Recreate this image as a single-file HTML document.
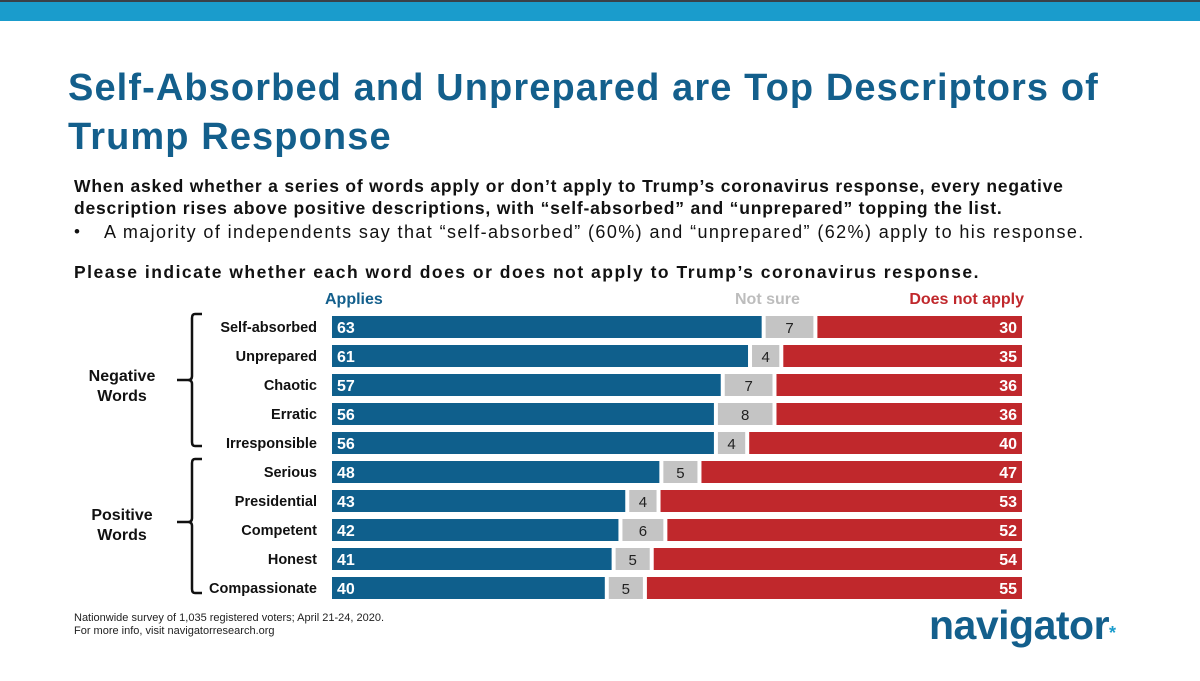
<!DOCTYPE html>
<html><head><meta charset="utf-8"><style>
body{margin:0;width:1200px;height:681px;background:#fff;position:relative;overflow:hidden;font-family:"Liberation Sans",sans-serif}
.a{position:absolute}
</style></head><body>
<div class="a" style="left:0;top:0;width:1200px;height:2px;background:#3a4048"></div>
<div class="a" style="left:0;top:2px;width:1200px;height:19px;background:#1a9ccc"></div>
<div class="a" style="left:68px;top:64px;width:1130px;font-size:38px;line-height:49px;font-weight:bold;color:#135f8c;letter-spacing:1.1px;white-space:nowrap">Self-Absorbed and Unprepared are Top Descriptors of<br>Trump Response</div>
<div class="a" style="left:74px;top:175px;width:1120px;font-size:17.5px;line-height:22px;font-weight:bold;color:#111;letter-spacing:0.8px;white-space:nowrap">When asked whether a series of words apply or don’t apply to Trump’s coronavirus response, every negative<br>description rises above positive descriptions, with “self-absorbed” and “unprepared” topping the list.</div>
<div class="a" style="left:74px;top:221px;width:1120px;font-size:17px;line-height:22px;color:#111;white-space:nowrap">•<span style="position:absolute;left:30px;font-size:18px;letter-spacing:1.4px">A majority of independents say that “self-absorbed” (60%) and “unprepared” (62%) apply to his response.</span></div>
<div class="a" style="left:74px;top:261px;width:1120px;font-size:17.5px;line-height:22px;font-weight:bold;color:#111;letter-spacing:1.5px;white-space:nowrap">Please indicate whether each word does or does not apply to Trump’s coronavirus response.</div>
<svg class="a" style="left:0;top:0" width="1200" height="681" id="chart">
<g font-family="Liberation Sans, sans-serif" font-weight="bold" font-size="16">
<text x="325" y="304" fill="#135f8c">Applies</text>
<text x="735" y="304" fill="#bdbdbd">Not sure</text>
<text x="1024" y="304" fill="#c0282c" text-anchor="end">Does not apply</text>
<text x="122" y="381" text-anchor="middle" fill="#111"><tspan x="122">Negative</tspan><tspan x="122" dy="20">Words</tspan></text>
<text x="122" y="520" text-anchor="middle" fill="#111"><tspan x="122">Positive</tspan><tspan x="122" dy="20">Words</tspan></text>
</g>
<path d="M202,314 H195 Q192,314 192,318 V376 Q192,380 188,380 H177 M188,380 Q192,380 192,384 V442 Q192,446 195,446 H202" fill="none" stroke="#111" stroke-width="2.5"/>
<path d="M202,459 H195 Q192,459 192,463 V518 Q192,522 188,522 H177 M188,522 Q192,522 192,526 V589 Q192,593 195,593 H202" fill="none" stroke="#111" stroke-width="2.5"/>
<g id="bars"></g>
</svg>
<div class="a" style="left:74px;top:612px;font-size:11px;line-height:13px;color:#222">Nationwide survey of 1,035 registered voters; April 21-24, 2020.<br>For more info, visit navigatorresearch.org</div>
<div class="a" style="left:929px;top:602px;font-size:41px;font-weight:bold;color:#135f8c;letter-spacing:-0.5px">navigator<span style="color:#1a9ccc;font-size:18px">*</span></div>
<script>
const words=["Self-absorbed","Unprepared","Chaotic","Erratic","Irresponsible","Serious","Presidential","Competent","Honest","Compassionate"];
const applies=[63,61,57,56,56,48,43,42,41,40];
const notSure=[7,4,7,8,4,5,4,6,5,5];
const notApply=[30,35,36,36,40,47,53,52,54,55];
const x0=332,unit=6.82,gap=4,rowY=i=>327+29*i,bh=22;
const xs=v=>v*unit;
const g=document.getElementById('bars');
const NS='http://www.w3.org/2000/svg';
function mk(t,attrs,txt){const e=document.createElementNS(NS,t);for(const k in attrs)e.setAttribute(k,attrs[k]);if(txt!==undefined)e.textContent=txt;g.appendChild(e);return e;}
words.forEach((w,i)=>{
  const cy=rowY(i),y=cy-bh/2;
  let l=mk('text',{x:317,y:cy+5,'text-anchor':'end','font-size':14.5,'font-weight':'bold',fill:'#111','font-family':'Liberation Sans, sans-serif'},w);
  
  
  const wa=xs(applies[i]);
  let r1=mk('rect',{x:x0,y:y,width:wa,height:bh,fill:'#0f5f8c'});
  
  
  let t1=mk('text',{x:x0+5,y:cy+6,'font-size':16,'font-weight':'bold',fill:'#fff','font-family':'Liberation Sans, sans-serif'},applies[i]);
  
  
  const x2=x0+wa+gap,wn=xs(notSure[i]);
  let r2=mk('rect',{x:x2,y:y,width:wn,height:bh,fill:'#c4c4c4'});
  
  
  let t2=mk('text',{x:x2+wn/2,y:cy+6,'text-anchor':'middle','font-size':15,fill:'#222','font-family':'Liberation Sans, sans-serif'},notSure[i]);
  
  
  const x3=x2+wn+gap,wr=xs(notApply[i]);
  let r3=mk('rect',{x:x3,y:y,width:wr,height:bh,fill:'#c0282c'});
  
  
  let t3=mk('text',{x:x3+wr-5,y:cy+6,'text-anchor':'end','font-size':16,'font-weight':'bold',fill:'#fff','font-family':'Liberation Sans, sans-serif'},notApply[i]);
  
  
});
</script>
</body></html>
